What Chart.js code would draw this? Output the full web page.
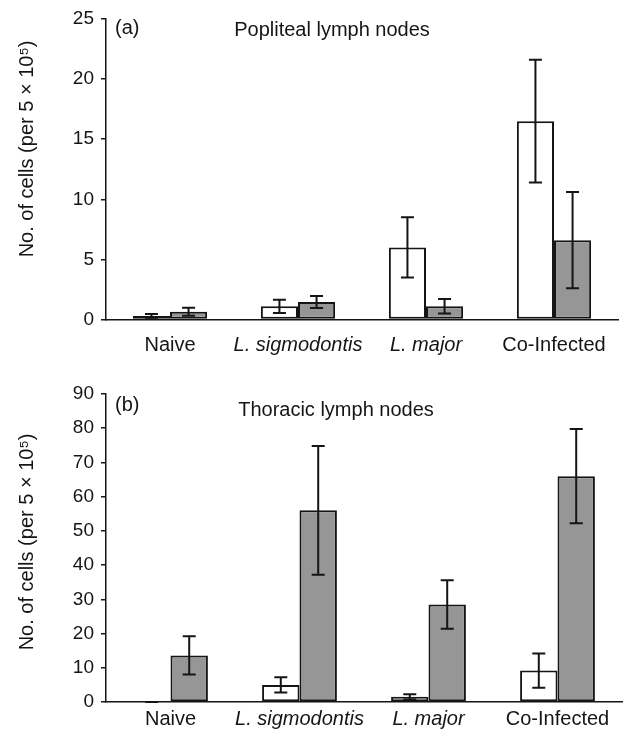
<!DOCTYPE html>
<html><head><meta charset="utf-8">
<script src="https://cdn.jsdelivr.net/npm/chart.js@4"></script>
<style>
html,body{margin:0;padding:0;background:#fff;width:624px;height:738px;overflow:hidden}
canvas{position:absolute;left:0}
#c1{top:0}
#c2{top:372px}
</style></head><body>
<canvas id="c1" width="624" height="372"></canvas>
<canvas id="c2" width="624" height="366"></canvas>
<script>
// ---- data ----
const categories = ['Naive', 'L. sigmodontis', 'L. major', 'Co-Infected'];
const italicCategory = [false, true, true, false];

const poplitealWhite = [0.3, 1.1, 6.0, 16.5];
const poplitealWhiteErr = [0.15, 0.55, 2.5, 5.1];
const poplitealGrey = [0.65, 1.45, 1.1, 6.6];
const poplitealGreyErr = [0.33, 0.5, 0.6, 4.0];

const thoracicWhite = [0, 5.0, 1.5, 9.2];
const thoracicWhiteErr = [0, 2.2, 0.75, 5.0];
const thoracicGrey = [13.6, 56, 28.5, 66];
const thoracicGreyErr = [5.6, 18.8, 7.1, 13.8];

const poplitealAxis = [0, 25, 5];   // min, max, step
const thoracicAxis = [0, 90, 10];

const yTitle = 'No. of cells (per 5 \u00d7 10\u2075)';
const FONT = "'Liberation Sans', Arial, Helvetica, sans-serif";
const INK = '#151515';

// ---- error bar plugin ----
const errorBars = {
  id: 'errorBars',
  afterDatasetsDraw(chart) {
    const ctx = chart.ctx;
    const yScale = chart.scales.y;
    ctx.save();
    ctx.strokeStyle = INK;
    ctx.lineWidth = 2;
    chart.data.datasets.forEach((ds, i) => {
      const meta = chart.getDatasetMeta(i);
      meta.data.forEach((bar, j) => {
        const v = ds.data[j], e = ds.errors[j];
        const x = bar.x;
        const yt = yScale.getPixelForValue(v + e);
        const yb = yScale.getPixelForValue(Math.max(v - e, 0));
        const cap = 6.5;
        ctx.beginPath();
        ctx.moveTo(x, yt); ctx.lineTo(x, yb);
        ctx.moveTo(x - cap, yt); ctx.lineTo(x + cap, yt);
        ctx.moveTo(x - cap, yb); ctx.lineTo(x + cap, yb);
        ctx.stroke();
      });
    });
    ctx.restore();
  }
};

// ---- panel text plugin (tag, panel title, y-axis title) ----
const panelText = {
  id: 'panelText',
  afterDraw(chart, args, opts) {
    const ctx = chart.ctx;
    ctx.save();
    ctx.fillStyle = INK;
    ctx.font = '20px ' + FONT;
    ctx.textBaseline = 'middle';
    ctx.textAlign = 'left';
    ctx.fillText(opts.tag, opts.tagX, opts.tagY);
    ctx.textAlign = 'center';
    ctx.fillText(opts.title, opts.titleX, opts.titleY);
    ctx.translate(opts.yTitleX, opts.yTitleY);
    ctx.rotate(-Math.PI / 2);
    ctx.fillText(yTitle, 0, 0);
    ctx.restore();
  }
};

function makeChart(id, white, whiteErr, grey, greyErr, axis, layout, text) {
  return new Chart(document.getElementById(id), {
    type: 'bar',
    data: {
      labels: categories,
      datasets: [
        { data: white, errors: whiteErr, backgroundColor: '#ffffff', borderColor: INK, borderWidth: 2, borderSkipped: false },
        { data: grey, errors: greyErr, backgroundColor: '#969696', borderColor: INK, borderWidth: 2, borderSkipped: false }
      ]
    },
    options: {
      responsive: false,
      animation: false,
      devicePixelRatio: 1,
      categoryPercentage: 0.58,
      barPercentage: 1.0,
      layout: { padding: { top: layout.top, right: layout.right, bottom: 0, left: 0 } },
      plugins: {
        legend: { display: false },
        tooltip: { enabled: false },
        panelText: text
      },
      scales: {
        x: {
          grid: { display: false, drawTicks: false },
          border: { display: true, color: INK, width: 1.5 },
          ticks: {
            color: INK,
            padding: layout.xPad,
            maxRotation: 0,
            autoSkip: false,
            font: (c) => ({ family: FONT, size: 20, style: italicCategory[c.index] ? 'italic' : 'normal' })
          },
          afterFit: (s) => { s.height = layout.xHeight; }
        },
        y: {
          min: axis[0], max: axis[1],
          grid: { display: true, drawOnChartArea: false, drawTicks: true, tickLength: 5, color: INK, lineWidth: 1.5 },
          border: { display: true, color: INK, width: 1.5 },
          ticks: { stepSize: axis[2], color: INK, padding: 7, font: { family: FONT, size: 19 } },
          title: { display: false },
          afterFit: (s) => { s.width = 106; }
        }
      }
    },
    plugins: [errorBars, panelText]
  });
}

makeChart('c1', poplitealWhite, poplitealWhiteErr, poplitealGrey, poplitealGreyErr, poplitealAxis,
  { top: 19, right: 6, xHeight: 52.5, xPad: 14 },
  { tag: '(a)', tagX: 115, tagY: 28, title: 'Popliteal lymph nodes', titleX: 332, titleY: 30, yTitleX: 27, yTitleY: 149 });

makeChart('c2', thoracicWhite, thoracicWhiteErr, thoracicGrey, thoracicGreyErr, thoracicAxis,
  { top: 22, right: 2, xHeight: 36, xPad: 5 },
  { tag: '(b)', tagX: 115, tagY: 33, title: 'Thoracic lymph nodes', titleX: 336, titleY: 38, yTitleX: 27, yTitleY: 170 });
</script>
</body></html>
